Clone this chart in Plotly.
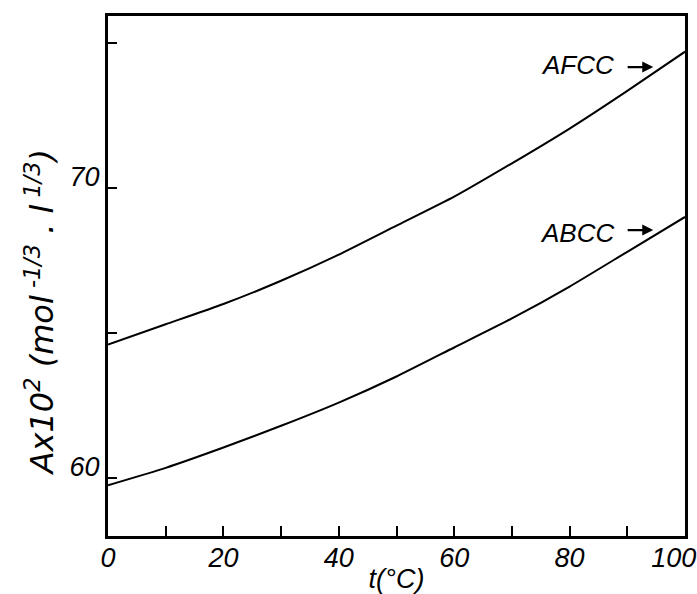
import plotly.graph_objects as go

t_c = [0, 10, 20, 30, 40, 50, 60, 70, 80, 90, 100]
afcc = [64.6, 65.3, 66.0, 66.8, 67.7, 68.7, 69.7, 70.85, 72.05, 73.35, 74.7]
abcc = [59.75, 60.35, 61.05, 61.8, 62.6, 63.5, 64.5, 65.5, 66.6, 67.8, 69.0]

x_ticks = [0, 10, 20, 30, 40, 50, 60, 70, 80, 90, 100]
x_ticklabels = ["0", "", "20", "", "40", "", "60", "", "80", "", "100"]
y_ticks = [60, 65, 70, 75]
y_ticklabels = ["60", "", "70", ""]

tick_font = dict(family="Liberation Sans Narrow, Liberation Sans, Arial", size=27, color="black")
lab_font = dict(family="Liberation Sans, Arial", size=26, color="black")


def ital(s, pad=""):
    return "<i>%s</i>%s" % (s, pad) if s else ""


fig = go.Figure()
fig.add_trace(go.Scatter(x=t_c, y=afcc, mode="lines",
                         line=dict(color="black", width=2, shape="spline", smoothing=0.5), name="AFCC"))
fig.add_trace(go.Scatter(x=t_c, y=abcc, mode="lines",
                         line=dict(color="black", width=2, shape="spline", smoothing=0.5), name="ABCC"))

fig.update_layout(
    width=697, height=594,
    margin=dict(l=108, r=12, t=16, b=58, autoexpand=False),
    paper_bgcolor="white", plot_bgcolor="white",
    showlegend=False,
)
xt = [ital(s) for s in x_ticklabels]
xt[-1] = ital(x_ticklabels[-1], "&nbsp;" * 3)
fig.update_xaxes(
    range=[0, 100], tickvals=x_ticks, ticktext=xt, automargin=False,
    ticks="inside", ticklen=10, tickwidth=1.5, tickcolor="black",
    showline=True, linewidth=3, linecolor="black", mirror=True,
    showgrid=False, zeroline=False, tickfont=tick_font, ticklabeloverflow="allow",
    ticklabelstandoff=-4,
    title=dict(text="<i>t(°C)</i>", font=tick_font, standoff=0),
)
fig.update_yaxes(
    range=[58, 75.93], tickvals=y_ticks, ticktext=[ital(s) for s in y_ticklabels], automargin=False,
    ticks="inside", ticklen=9, tickwidth=2, tickcolor="black",
    showline=True, linewidth=3, linecolor="black", mirror=True,
    showgrid=False, zeroline=False, tickfont=tick_font, ticklabeloverflow="allow",
    ticklabelshift=-11,
)

fig.add_annotation(
    xref="paper", yref="paper", x=-0.118, y=0.43, textangle=-90,
    xanchor="center", yanchor="middle",
    text="<i>Ax10<sup>2</sup> (mol<sup> -1/3</sup> . l<sup> 1/3</sup>)</i>",
    showarrow=False, font=dict(family="DejaVu Sans, Liberation Sans, Arial", size=32, color="black"),
)
for name, ty, ay in [("AFCC", 74.24, 74.17), ("ABCC", 68.45, 68.55)]:
    fig.add_annotation(x=81.3, y=ty, text="<i>%s</i>" % name, showarrow=False, font=lab_font)
    fig.add_annotation(x=94.5, y=ay, ax=89.8, ay=ay, axref="x", ayref="y", text="",
                       showarrow=True, arrowhead=2, arrowsize=1, arrowwidth=2.2, arrowcolor="black")

fig.write_html("out.html", config={"displayModeBar": False},
               post_script="document.body.style.margin='0';document.body.style.padding='0';")
